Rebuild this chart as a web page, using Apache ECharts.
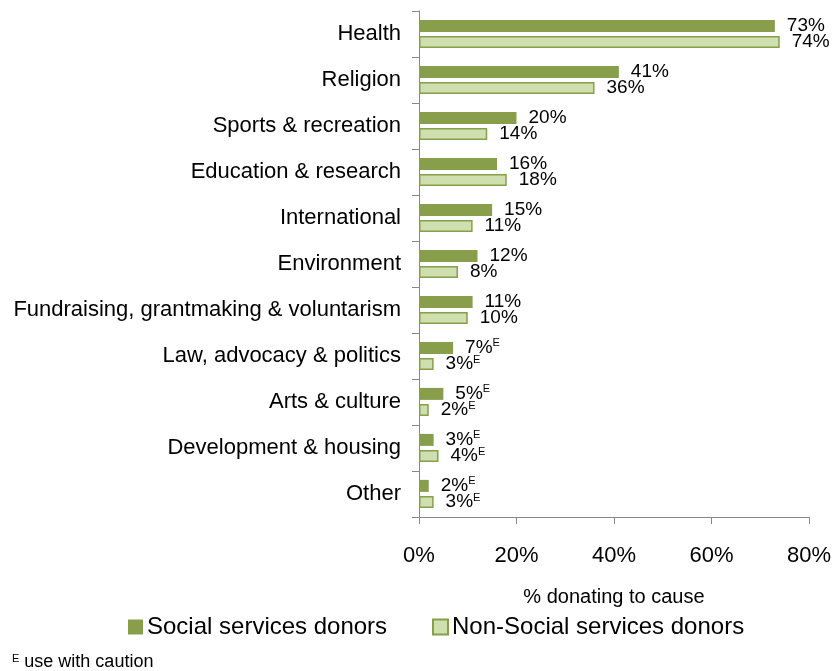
<!DOCTYPE html>
<html>
<head>
<meta charset="utf-8">
<script src="https://cdn.jsdelivr.net/npm/echarts@6/dist/echarts.min.js"></script>
<style>
  html, body { margin: 0; padding: 0; background: #fff; }
  #chart { width: 834px; height: 671px; }
</style>
</head>
<body>
<div id="chart"></div>
<script>
// Causes supported, by donor group (percent donating to each cause)
var causes = [
  'Health', 'Religion', 'Sports & recreation', 'Education & research',
  'International', 'Environment', 'Fundraising, grantmaking & voluntarism',
  'Law, advocacy & politics', 'Arts & culture', 'Development & housing', 'Other'
];
var socialDonors = [73, 41, 20, 16, 15, 12, 11, 7, 5, 3, 2];
var nonSocialDonors = [74, 36, 14, 18, 11, 8, 10, 3, 2, 4, 3];
// Estimates flagged "use with caution"
var socialCaution = [false, false, false, false, false, false, false, true, true, true, true];
var nonSocialCaution = [false, false, false, false, false, false, false, true, true, true, true];
var xTicks = [0, 20, 40, 60, 80];

var FONT = 'Liberation Sans, Arial, sans-serif';

function valueLabel(flags) {
  return {
    show: true,
    position: 'right',
    distance: 12,
    formatter: function (p) {
      return flags[p.dataIndex] ? '{v|' + p.value + '%}{e|E}' : '{v|' + p.value + '%}';
    },
    rich: {
      v: { fontSize: 19, lineHeight: 20, color: '#000', fontFamily: FONT },
      e: { fontSize: 11, lineHeight: 14, verticalAlign: 'top', color: '#000', fontFamily: FONT }
    }
  };
}

var chart = echarts.init(document.getElementById('chart'), null, { renderer: 'canvas' });
chart.setOption({
  animation: false,
  textStyle: { fontFamily: FONT, color: '#000' },
  grid: { left: 419, right: 24, top: 11, bottom: 154, containLabel: false },
  legend: [
    {
      data: [{ name: 'Social services donors', icon: 'rect' }],
      left: 128, top: 615, padding: 0, itemWidth: 15, itemHeight: 15, itemGap: 0,
      textStyle: { fontSize: 24, color: '#000', fontFamily: FONT, padding: [0, 0, 0, -1] }
    },
    {
      data: [{ name: 'Non-Social services donors', icon: 'rect' }],
      left: 432, top: 615, padding: 0, itemWidth: 15, itemHeight: 15, itemGap: 0,
      textStyle: { fontSize: 24, color: '#000', fontFamily: FONT, padding: [0, 0, 0, -1] }
    }
  ],
  xAxis: {
    type: 'value',
    min: xTicks[0],
    max: xTicks[xTicks.length - 1],
    interval: xTicks[1] - xTicks[0],
    name: '% donating to cause',
    nameLocation: 'middle',
    nameGap: 70,
    nameTextStyle: { fontSize: 20, color: '#000', fontFamily: FONT },
    axisLine: { show: true, lineStyle: { color: '#888', width: 1 } },
    axisTick: { show: true, length: 7, lineStyle: { color: '#888' } },
    axisLabel: { fontSize: 22, color: '#000', margin: 28, formatter: '{value}%', fontFamily: FONT },
    splitLine: { show: false }
  },
  yAxis: {
    type: 'category',
    data: causes,
    inverse: true,
    axisLine: { show: true, lineStyle: { color: '#888', width: 1 } },
    axisTick: { show: true, length: 7, lineStyle: { color: '#888' } },
    axisLabel: { fontSize: 22, color: '#000', margin: 18, padding: [5, 0, 0, 0], fontFamily: FONT }
  },
  series: [
    {
      name: 'Social services donors',
      type: 'bar',
      data: socialDonors,
      barWidth: 12,
      barGap: '35%',
      itemStyle: { color: '#889e4a' },
      label: valueLabel(socialCaution)
    },
    {
      name: 'Non-Social services donors',
      type: 'bar',
      data: nonSocialDonors,
      barWidth: 12,
      barGap: '35%',
      itemStyle: { color: '#d0dfb0', borderColor: '#86a04a', borderWidth: 1.5 },
      label: valueLabel(nonSocialCaution)
    }
  ],
  graphic: [
    {
      type: 'text',
      left: 12,
      top: 653,
      style: {
        text: '{e|E}{t| use with caution}',
        rich: {
          e: { fontSize: 11, lineHeight: 12, verticalAlign: 'top', fill: '#000', fontFamily: FONT },
          t: { fontSize: 18, lineHeight: 19, fill: '#000', fontFamily: FONT }
        }
      }
    }
  ]
});
</script>
</body>
</html>
